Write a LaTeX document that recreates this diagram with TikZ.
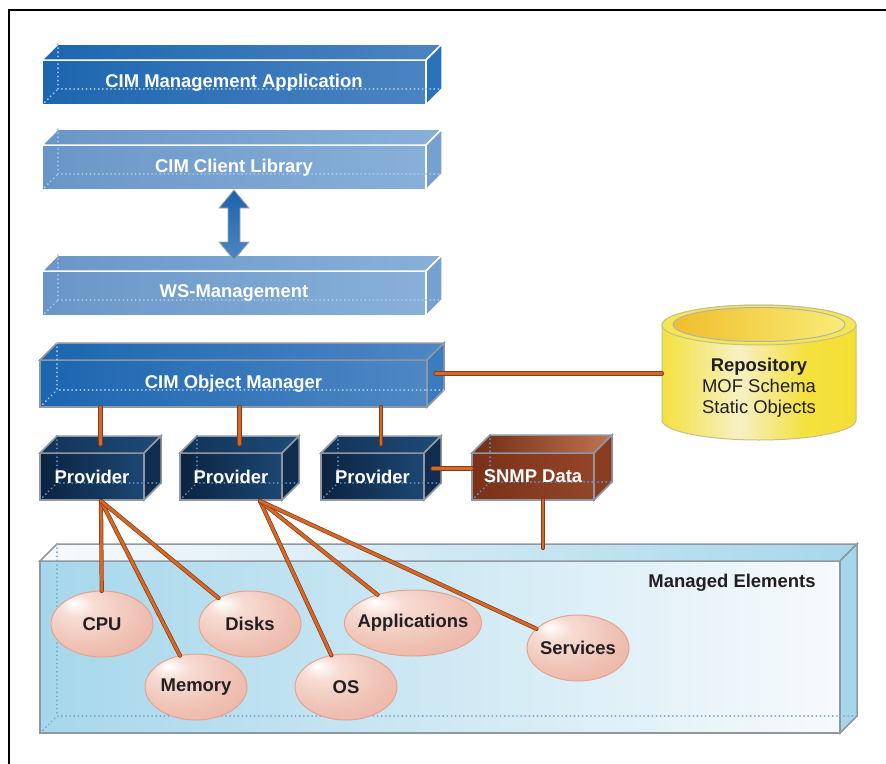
\documentclass[tikz,border=0pt]{standalone}
\usepackage{fontspec}
\setmainfont{Liberation Sans}
\usetikzlibrary{shapes.geometric}

\newdimen\pxu \pxu=0.02cm

\definecolor{cmaL}{HTML}{1C66AF}
\definecolor{cmaR}{HTML}{4C84C2}
\definecolor{cmaS}{HTML}{2A72B9}
\definecolor{cclL}{HTML}{6A96C7}
\definecolor{cclR}{HTML}{88B0D9}
\definecolor{cclS}{HTML}{76A0CE}
\definecolor{omL}{HTML}{1B66B0}
\definecolor{omR}{HTML}{4F87C4}
\definecolor{omS}{HTML}{3A7CC0}
\definecolor{prL}{HTML}{0B2340}
\definecolor{prR}{HTML}{1C4773}
\definecolor{prTL}{HTML}{123356}
\definecolor{prTR}{HTML}{1E4B78}
\definecolor{prS}{HTML}{102D50}
\definecolor{snL}{HTML}{7A3117}
\definecolor{snM}{HTML}{C98460}
\definecolor{snR}{HTML}{94452A}
\definecolor{snTL}{HTML}{6E2C14}
\definecolor{snTR}{HTML}{C07452}
\definecolor{snS}{HTML}{8A3D20}
\definecolor{meL}{HTML}{A6D7EB}
\definecolor{meR}{HTML}{F7FAFC}
\definecolor{meS}{HTML}{A5D6EA}
\definecolor{dashA}{HTML}{A6C8EC}
\definecolor{dashB}{HTML}{5A8EBE}
\definecolor{dashSn}{HTML}{5A95D0}
\definecolor{dashMe}{HTML}{7FA6CF}
\definecolor{edgeGray}{HTML}{8F98A2}
\definecolor{wireOr}{HTML}{D2692B}
\definecolor{wireDk}{HTML}{8B3A12}
\definecolor{arTop}{HTML}{1A63AE}
\definecolor{arBot}{HTML}{4F86C3}
\definecolor{ballA}{HTML}{F7DCD3}
\definecolor{ballB}{HTML}{EFC0B3}
\definecolor{ballC}{HTML}{E3A69A}
\definecolor{ballEdge}{HTML}{E4A494}
\definecolor{cylA}{HTML}{F4E13E}
\definecolor{cylB}{HTML}{F6F0C4}
\definecolor{cylC}{HTML}{F2DC1C}
\definecolor{cylTop}{HTML}{F5E654}
\definecolor{cylInL}{HTML}{F0BE2C}
\definecolor{cylInR}{HTML}{F8EC78}
\definecolor{cylEdge}{HTML}{C8BE8C}
\definecolor{textDk}{HTML}{231F20}

\pgfdeclareradialshading{pinkball}{\pgfpoint{-14bp}{16bp}}{color(0bp)=(white); color(9bp)=(ballA); color(28bp)=(ballB); color(55bp)=(ballC); color(70bp)=(ballC)}
\pgfdeclarehorizontalshading{cylfill}{100bp}{color(0bp)=(cylA); color(25bp)=(cylA); color(45bp)=(cylB); color(62bp)=(cylA); color(100bp)=(cylC)}

\newcommand{\slabfaces}[7]{%
\path[left color=#3,right color=#4,draw=#6,line width=1.5\pxu] (#1.north west) -- ++(#2,-#2) -- ([shift={(#2,-#2)}]#1.north east) -- (#1.north east) -- cycle;
\path[fill=#5,draw=#6,line width=1.5\pxu] (#1.north east) -- ++(#2,-#2) -- ([shift={(#2,-#2)}]#1.south east) -- (#1.south east) -- cycle;
\draw[hidden,#7] ([shift={(#2,-#2)}]#1.north west) -- ([shift={(#2,0)}]#1.north west);
\draw[hidden,#7] ([shift={(0,-#2)}]#1.south east) -- ([shift={(#2,-#2)}]#1.south east);
}

\begin{document}
\begin{tikzpicture}[x=0.02cm,y=-0.02cm,
every node/.style={inner sep=0pt,outer sep=0pt},
lbl/.style={font=\fontsize{10.5}{12.6}\selectfont\bfseries},
hidden/.style={line width=2\pxu,dash pattern=on 0.1\pxu off 4\pxu,line cap=round},
slab/.style n args={3}{rectangle,draw=#2,line width=1.5\pxu,lbl,text=white,
  path picture={
    \draw[hidden,#3] ([shift={(#1,0)}]path picture bounding box.north west) -- ([shift={(#1,-#1)}]path picture bounding box.south west) -- ([shift={(0,-#1)}]path picture bounding box.south east);
    \draw[hidden,#3] (path picture bounding box.south west) -- ++(#1,-#1);}},
ball/.style={ellipse,shade,shading=pinkball,draw=ballEdge,line width=1\pxu,lbl,text=textDk,inner xsep=-6\pxu,minimum width=102\pxu,minimum height=66\pxu},
wire/.style={draw=wireDk,double=wireOr,double distance=2.8\pxu,line width=0.7\pxu,line cap=round}]
\useasboundingbox (0,0) rectangle (886,764);
\draw[line width=2\pxu] (9,764) -- (9,10) -- (886,10);

\node[slab={16}{white}{dashA},left color=cmaL,right color=cmaR,minimum width=384\pxu,minimum height=45\pxu] (cma) at (234,82.5) {CIM Management Application};
\slabfaces{cma}{16}{cmaL}{cmaR}{cmaS}{white}{dashA}
\node[slab={16}{white}{dashA},left color=cclL,right color=cclR,minimum width=384\pxu,minimum height=45\pxu] (ccl) at (234,167.5) {CIM Client Library};
\slabfaces{ccl}{16}{cclL}{cclR}{cclS}{white}{dashA}
\node[slab={16}{white}{dashA},left color=cclL,right color=cclR,minimum width=384\pxu,minimum height=45\pxu] (wsm) at (234,293.5) {WS-Management};
\slabfaces{wsm}{16}{cclL}{cclR}{cclS}{white}{dashA}

\path[top color=arTop,bottom color=arBot,draw=gray!70,line width=0.8\pxu] (ccl.south) -- ++(15,18) -- ++(-9,0) -- ++(0,34) -- ++(9,0) -- ++(-15,18) -- ++(-15,-18) -- ++(9,0) -- ++(0,-34) -- ++(-9,0) -- cycle;

\node[slab={17}{edgeGray}{dashA},left color=omL,right color=omR,minimum width=387\pxu,minimum height=47\pxu] (cimom) at (233.5,383.5) {CIM Object Manager};
\slabfaces{cimom}{17}{omL}{omR}{omS}{edgeGray}{dashA}

\node[slab={17}{edgeGray}{dashB},left color=prL,right color=prR,minimum width=104\pxu,minimum height=47\pxu] (p1) at (92,476.5) {Provider};
\slabfaces{p1}{17}{prTL}{prTR}{prS}{edgeGray}{dashB}
\node[slab={17}{edgeGray}{dashB},left color=prL,right color=prR,minimum width=102\pxu,minimum height=47\pxu] (p2) at (231,476.5) {Provider};
\slabfaces{p2}{17}{prTL}{prTR}{prS}{edgeGray}{dashB}
\node[slab={17}{edgeGray}{dashB},left color=prL,right color=prR,minimum width=103\pxu,minimum height=47\pxu] (p3) at (372.5,476.5) {Provider};
\slabfaces{p3}{17}{prTL}{prTR}{prS}{edgeGray}{dashB}
\node[slab={18}{edgeGray}{dashSn},left color=snL,middle color=snM,right color=snR,minimum width=122\pxu,minimum height=47\pxu] (snmp) at (533,476.5) {SNMP Data};
\slabfaces{snmp}{18}{snTL}{snTR}{snS}{edgeGray}{dashSn}

\node[minimum width=194\pxu,minimum height=95\pxu] (repo) at (759,372.5) {};
\path[shade,shading=cylfill,draw=cylEdge,line width=1\pxu] (repo.north west) -- (repo.south west) arc (180:0:97 and 20) -- (repo.north east) arc (0:-180:97 and 20) -- cycle;
\path[fill=cylTop,draw=cylEdge,line width=1\pxu] (repo.north) ellipse [x radius=97,y radius=20];
\path[left color=cylInL,right color=cylInR,draw=gray!60,line width=1\pxu] ([yshift=0.5\pxu]repo.north) ellipse [x radius=86,y radius=17];
\node[font=\fontsize{10.5}{11.9}\selectfont,text=textDk,align=center] (repotext) at (759,388) {\textbf{Repository}\\MOF Schema\\Static Objects};

\foreach \p in {p1,p2,p3} {
  \path ([shift={(8.5,-8.5)}]\p.north) coordinate (\p-top);
  \draw[wire] (\p-top) -- (\p-top |- cimom.south);
}
\path ([shift={(8.5,-10)}]cimom.east) coordinate (om-side);
\draw[wire] (om-side) -- (om-side -| repo.west);
\path ([shift={(8.5,-8)}]p3.east) coordinate (p3-side);
\draw[wire] (p3-side) -- (p3-side -| snmp.west);

\node[slab={17}{edgeGray}{dashMe},left color=meL,right color=meR,line width=2.5\pxu,minimum width=800\pxu,minimum height=172\pxu] (managed) at (440,647) {};
\slabfaces{managed}{17}{meR}{meL}{meS}{edgeGray}{dashMe}
\node[lbl,text=textDk] (mtext) at (732,583) {Managed Elements};

\path ([shift={(10,0)}]snmp.south) coordinate (snmp-bot);
\draw[wire] (snmp-bot) -- ++(0,48);

\node[ball] (cpu) at (102,624) {CPU};
\node[ball] (disks) at (250,624) {Disks};
\node[ball] (memory) at (196,687) {Memory};
\node[ball] (os) at (346,687) {OS};
\node[ball,inner xsep=-14\pxu,minimum width=137\pxu] (apps) at (413,623) {Applications};
\node[ball] (services) at (578,648) {Services};

\path ([shift={(9,1)}]p1.south) coordinate (p1-bot);
\path ([shift={(29,1)}]p2.south) coordinate (p2-bot);
\foreach \e in {cpu,memory,disks} \draw[wire] (p1-bot) -- (\e);
\foreach \e in {os,apps,services} \draw[wire] (p2-bot) -- (\e);
\end{tikzpicture}
\end{document}
